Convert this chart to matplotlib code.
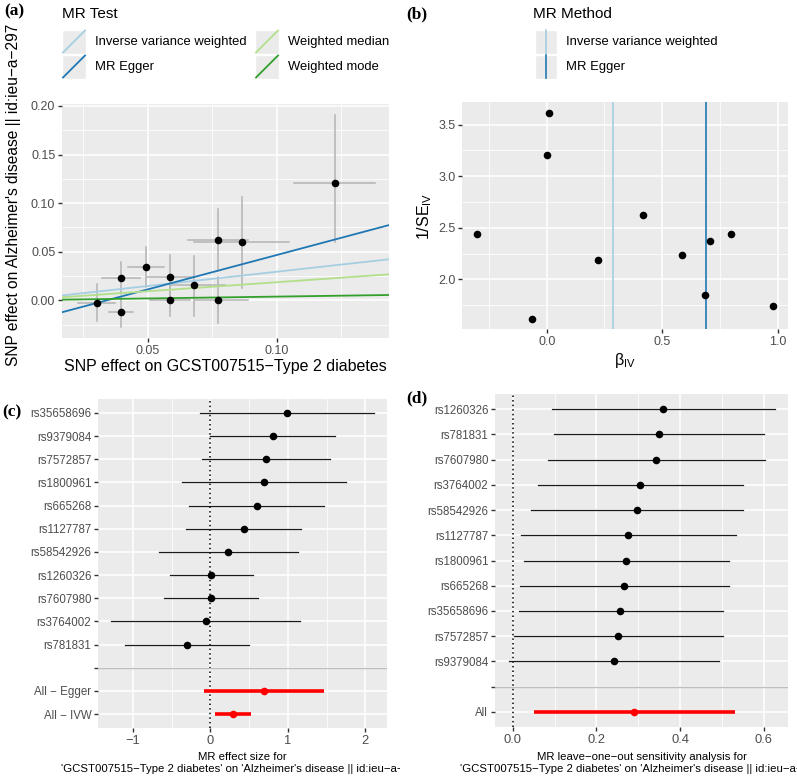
import numpy as np
import matplotlib
matplotlib.use("Agg")
import matplotlib.pyplot as plt
from matplotlib.patches import Rectangle
from matplotlib.transforms import Bbox, TransformedBbox

plt.rcParams["font.family"] = ["Liberation Sans", "DejaVu Sans"]
plt.rcParams["axes.unicode_minus"] = True

W, H = 797, 777

# ---- (a) scatter: SNP effect on exposure vs outcome ----
a_bx = [0.0302, 0.0398, 0.0398, 0.0492, 0.0587, 0.0587, 0.0681, 0.0774, 0.0774, 0.0866, 0.1224]
a_bx_lo = [0.0229, 0.0324, 0.0351, 0.0422, 0.0497, 0.0510, 0.0587, 0.0658, 0.0683, 0.0681, 0.1067]
a_bx_hi = [0.0373, 0.0470, 0.0444, 0.0565, 0.0677, 0.0664, 0.0800, 0.0890, 0.0890, 0.1049, 0.1381]
a_by = [-0.0024, 0.0229, -0.0123, 0.0346, 0.0243, 0.0003, 0.0154, 0.0616, 0.0000, 0.0596, 0.1209]
a_by_lo = [-0.0212, 0.0065, -0.0277, 0.0141, 0.0020, -0.0158, -0.0161, 0.0297, -0.0236, 0.0130, 0.0596]
a_by_hi = [0.0164, 0.0397, 0.0031, 0.0551, 0.0466, 0.0164, 0.0455, 0.0935, 0.0236, 0.1062, 0.1906]

methods = ["Inverse variance weighted", "MR Egger", "Weighted median", "Weighted mode"]
method_slope = [0.294, 0.708, 0.186, 0.038]
method_icpt = [0.0, -0.0242, 0.0, 0.0]
method_col = ["#A6CEE3", "#1F78B4", "#B2DF8A", "#33A02C"]

# ---- (b) funnel plot ----
b_beta = [-0.300, -0.065, 0.003, 0.010, 0.222, 0.418, 0.584, 0.684, 0.709, 0.797, 0.980]
b_inv_se = [2.435, 1.613, 3.203, 3.616, 2.184, 2.623, 2.239, 1.845, 2.371, 2.442, 1.745]
b_methods = ["Inverse variance weighted", "MR Egger"]
b_method_beta = [0.289, 0.690]

# ---- (c) forest plot ----
c_snps = ["rs35658696", "rs9379084", "rs7572857", "rs1800961", "rs665268", "rs1127787",
          "rs58542926", "rs1260326", "rs7607980", "rs3764002", "rs781831"]
c_b = [0.991, 0.806, 0.720, 0.690, 0.595, 0.427, 0.228, 0.013, 0.009, -0.060, -0.297]
c_lo = [-0.138, 0.000, -0.108, -0.366, -0.280, -0.319, -0.668, -0.526, -0.603, -1.280, -1.099]
c_hi = [2.110, 1.608, 1.543, 1.754, 1.466, 1.172, 1.125, 0.556, 0.616, 1.159, 0.504]
c_all = ["All \u2212 Egger", "All \u2212 IVW"]
c_all_b = [0.698, 0.297]
c_all_lo = [-0.078, 0.056]
c_all_hi = [1.466, 0.530]

# ---- (d) leave-one-out ----
d_snps = ["rs1260326", "rs781831", "rs7607980", "rs3764002", "rs58542926", "rs1127787",
          "rs1800961", "rs665268", "rs35658696", "rs7572857", "rs9379084"]
d_b = [0.359, 0.349, 0.343, 0.305, 0.296, 0.276, 0.270, 0.267, 0.257, 0.252, 0.241]
d_lo = [0.093, 0.099, 0.084, 0.061, 0.043, 0.020, 0.026, 0.018, 0.014, 0.003, -0.010]
d_hi = [0.626, 0.600, 0.604, 0.551, 0.551, 0.534, 0.516, 0.516, 0.503, 0.503, 0.492]
d_all = ["All"]
d_all_b = [0.291]
d_all_lo = [0.052]
d_all_hi = [0.531]

exposure = "GCST007515\u2212Type 2 diabetes"
outcome = "Alzheimer's disease || id:ieu\u2212a\u2212297"


def px_axes(fig, left, top, right, bottom):
    return fig.add_axes([left / W, 1 - bottom / H, (right - left) / W, (bottom - top) / H])


def gg_style(ax):
    ax.set_facecolor("#EBEBEB")
    for s in ax.spines.values():
        s.set_visible(False)
    ax.grid(which="major", color="white", lw=1.1)
    ax.grid(which="minor", color="white", lw=0.55)
    ax.set_axisbelow(True)
    ax.tick_params(which="major", length=3.0, width=1.0, color="#333333",
                   labelcolor="#4D4D4D", pad=1.8)
    ax.tick_params(which="minor", length=0)


fig = plt.figure(figsize=(W / 100, H / 100), dpi=100)

# ================= (a) =================
ax = px_axes(fig, 62, 104, 389, 338)
gg_style(ax)
for i in range(len(a_bx)):
    ax.plot([a_bx[i], a_bx[i]], [a_by_lo[i], a_by_hi[i]], color="#B4B4B4", lw=1.1, zorder=2)
    ax.plot([a_bx_lo[i], a_bx_hi[i]], [a_by[i], a_by[i]], color="#B4B4B4", lw=1.1, zorder=2)
xs = np.array([0.0168, 0.1435])
for k in range(len(methods)):
    ax.plot(xs, method_icpt[k] + method_slope[k] * xs, color=method_col[k], lw=1.3, zorder=3)
ax.scatter(a_bx, a_by, s=30, color="black", zorder=4, linewidths=0)
ax.set_xticks([0.05, 0.10])
ax.set_xticklabels(["0.05", "0.10"])
ax.set_xticks([0.025, 0.075, 0.125], minor=True)
ax.set_yticks([0.00, 0.05, 0.10, 0.15, 0.20])
ax.set_yticklabels(["0.00", "0.05", "0.10", "0.15", "0.20"])
ax.set_yticks([-0.025, 0.025, 0.075, 0.125, 0.175], minor=True)
ax.tick_params(labelsize=9)
ax.set_xlim(0.0168, 0.1435)
ax.set_ylim(-0.0388, 0.202)

# ================= (b) =================
bx = px_axes(fig, 462, 102, 788, 329)
gg_style(bx)
for k in range(len(b_methods)):
    bx.axvline(b_method_beta[k], color=method_col[k], lw=1.2, zorder=3)
bx.scatter(b_beta, b_inv_se, s=30, color="black", zorder=4, linewidths=0)
bx.set_xticks([0.0, 0.5, 1.0])
bx.set_xticklabels(["0.0", "0.5", "1.0"])
bx.set_xticks([-0.25, 0.25, 0.75], minor=True)
bx.set_yticks([2.0, 2.5, 3.0, 3.5])
bx.set_yticklabels(["2.0", "2.5", "3.0", "3.5"])
bx.set_yticks([1.75, 2.25, 2.75, 3.25], minor=True)
bx.tick_params(labelsize=9)
bx.set_xlim(-0.367, 1.045)
bx.set_ylim(1.518, 3.72)


# ================= forest helper =================
def forest(axf, labels, b, lo, hi, all_labels, all_b, all_lo, all_hi):
    gg_style(axf)
    n = len(labels)
    ypos = np.arange(n)
    blank = n
    ypos_all = np.arange(n + 1, n + 1 + len(all_labels))
    axf.axvline(0, color="black", lw=1.1, ls=(0, (1, 2)), zorder=2)
    for i in range(n):
        axf.plot([lo[i], hi[i]], [ypos[i], ypos[i]], color="#1A1A1A", lw=0.9, zorder=3)
    axf.scatter(b, ypos, s=30, color="black", zorder=4, linewidths=0)
    for j in range(len(all_labels)):
        axf.plot([all_lo[j], all_hi[j]], [ypos_all[j], ypos_all[j]], color="red", lw=2.6,
                 zorder=3, solid_capstyle="butt")
    axf.scatter(all_b, ypos_all, s=30, color="red", zorder=4, linewidths=0)
    axf.axhline(blank, color="#BEBEBE", lw=1.0, zorder=2)
    ticks = list(ypos) + [blank] + list(ypos_all)
    axf.set_yticks(ticks)
    axf.set_yticklabels(list(labels) + [""] + list(all_labels), fontsize=8.3)
    axf.set_ylim(ticks[-1] + 0.6, -0.6)
    axf.tick_params(axis="x", labelsize=9.3)


# ================= (c) =================
cx = px_axes(fig, 98, 399, 387, 728)
forest(cx, c_snps, c_b, c_lo, c_hi, c_all, c_all_b, c_all_lo, c_all_hi)
cx.set_xlim(-1.452, 2.28)
cx.set_xticks([-1, 0, 1, 2])
cx.set_xticks([-0.5, 0.5, 1.5], minor=True)

# ================= (d) =================
dx = px_axes(fig, 495, 394, 788, 727)
forest(dx, d_snps, d_b, d_lo, d_hi, d_all, d_all_b, d_all_lo, d_all_hi)
dx.set_xlim(-0.0424, 0.658)
dx.set_xticks([0.0, 0.2, 0.4, 0.6])
dx.set_xticklabels(["0.0", "0.2", "0.4", "0.6"])
dx.set_xticks([0.1, 0.3, 0.5], minor=True)

# ================= overlay: titles, legends, letters =================
ov = fig.add_axes([0, 0, 1, 1], zorder=-1)
ov.set_xlim(0, W)
ov.set_ylim(H, 0)
ov.axis("off")

serif = ["Liberation Serif", "DejaVu Serif"]
for lab, x, y in [("(a)", 4, 11), ("(b)", 406, 14), ("(c)", 2, 412), ("(d)", 406, 398)]:
    ov.text(x, y, lab, fontsize=12.5, fontweight="bold", family=serif, ha="left", va="center")

# axis titles (a)
ov.text(225.5, 371.5, "SNP effect on " + exposure, fontsize=11.5, ha="center", va="baseline")
ov.text(14, 195, "SNP effect on " + outcome, fontsize=11.2, ha="center", va="center",
        rotation=90, rotation_mode="anchor")
# axis titles (b)
ov.text(625, 360, r"$\mathregular{\beta_{IV}}$", fontsize=11.5, ha="center", va="center")
ov.text(425, 216, r"$\mathregular{1/SE_{IV}}$", fontsize=11.5, ha="center", va="center",
        rotation=90, rotation_mode="anchor")

# axis titles (c) and (d): two lines, cut at the panel border
ov.text(242.5, 756.5, "MR effect size for", fontsize=8.2, ha="center", va="center")
c2 = ov.text(242.5, 768.5, "'" + exposure + "' on '" + outcome + "'", fontsize=8.2,
             ha="center", va="center")
c2.set_clip_box(TransformedBbox(Bbox.from_extents(0, 0, 400 / W, 1), fig.transFigure))
c2.set_clip_on(True)
ov.text(641.5, 756.5, "MR leave\u2212one\u2212out sensitivity analysis for", fontsize=8.2,
        ha="center", va="center")
ov.text(641.5, 768.5, "'" + exposure + "' on '" + outcome + "'", fontsize=8.2,
        ha="center", va="center")

# legend (a)
ov.text(62, 14, "MR Test", fontsize=11, ha="left", va="center")
key_pos = [(62, 29.5), (62, 54.5), (255, 29.5), (255, 54.5)]
for k in range(len(methods)):
    kx, ky = key_pos[k]
    ov.add_patch(Rectangle((kx, ky), 24, 24, facecolor="#EBEBEB", edgecolor="white", lw=1))
    ov.plot([kx + 1, kx + 23], [ky + 23, ky + 1], color=method_col[k], lw=1.3)
    ov.text(kx + 33.5, ky + 12.5, methods[k], fontsize=9.4, ha="left", va="center")

# legend (b)
ov.text(533, 14, "MR Method", fontsize=11, ha="left", va="center")
for k in range(len(b_methods)):
    kx, ky = 535, 29.5 + 25 * k
    ov.add_patch(Rectangle((kx, ky), 22, 24, facecolor="#EBEBEB", edgecolor="white", lw=1))
    ov.plot([kx + 11, kx + 11], [ky + 0.5, ky + 23.5], color=method_col[k], lw=1.2)
    ov.text(kx + 31.5, ky + 12.5, b_methods[k], fontsize=9.4, ha="left", va="center")

fig.savefig("out.png", dpi=100)
